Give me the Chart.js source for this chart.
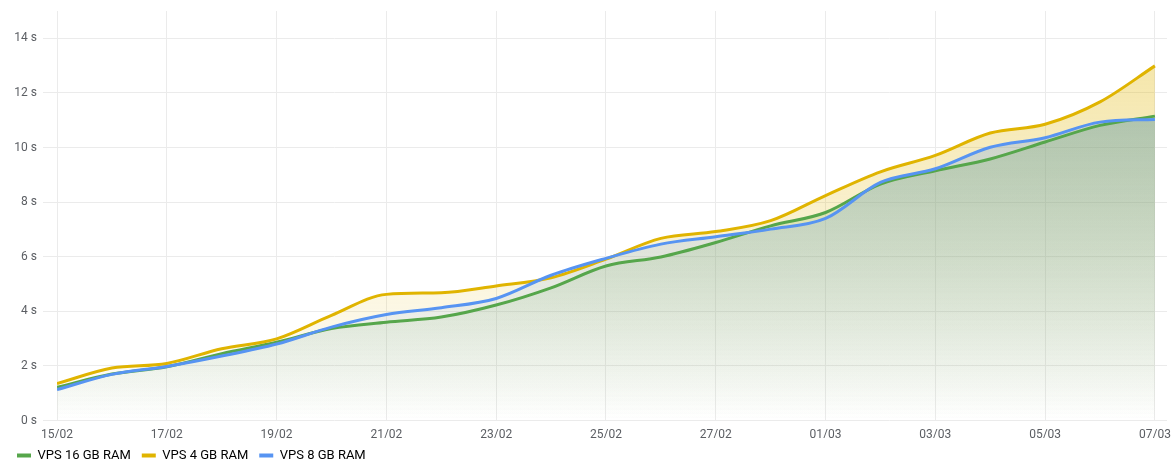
<!DOCTYPE html>
<html>
<head>
<meta charset="utf-8">
<title>VPS</title>
<script src="https://cdn.jsdelivr.net/npm/chart.js@4.4.1/dist/chart.umd.min.js"></script>
<style>
    html, body { margin: 0; padding: 0; background: #fff; }
    canvas { display: block; }
</style>
</head>
<body>
<canvas id="vpsChart" width="1173" height="461"></canvas>
<script>
const days = [
    "15/02", "16/02", "17/02", "18/02", "19/02", "20/02", "21/02",
    "22/02", "23/02", "24/02", "25/02", "26/02", "27/02", "28/02",
    "01/03", "02/03", "03/03", "04/03", "05/03", "06/03", "07/03",
];
const vps16 = [1.22, 1.70, 1.97, 2.45, 2.87, 3.37, 3.60, 3.79, 4.23, 4.86, 5.66,
    5.99, 6.52, 7.13, 7.62, 8.66, 9.15, 9.58, 10.20, 10.81, 11.15];
const vps4 = [1.35, 1.92, 2.09, 2.63, 2.99, 3.85, 4.62, 4.68, 4.93, 5.23, 5.91,
    6.67, 6.92, 7.32, 8.24, 9.11, 9.71, 10.53, 10.85, 11.67, 12.99];
const vps8 = [1.13, 1.69, 1.98, 2.36, 2.80, 3.42, 3.88, 4.13, 4.47, 5.32, 5.94,
    6.46, 6.73, 7.01, 7.40, 8.72, 9.22, 10.01, 10.36, 10.93, 11.03];
const yTicks = [0, 2, 4, 6, 8, 10, 12, 14];

// vertical fade from the top of the plot down to the zero line
const fade = (rgb, alpha) => (ctx) => {
    const area = ctx.chart.chartArea;
    if (!area) return `rgba(${rgb}, ${alpha})`;
    const g = ctx.chart.ctx.createLinearGradient(0, area.top, 0, area.bottom);
    g.addColorStop(0, `rgba(${rgb}, ${alpha})`);
    g.addColorStop(1, `rgba(${rgb}, 0)`);
    return g;
};

const series = (label, values, color, rgb, order) => ({
    label: label,
    data: values.map((v, i) => ({ x: i, y: v })),
    borderColor: color,
    backgroundColor: fade(rgb, 0.38),
    borderWidth: 3,
    pointRadius: 0,
    fill: "origin",
    cubicInterpolationMode: "monotone",
    order: order,
});

Chart.defaults.font.family = "Roboto, 'Liberation Sans', sans-serif";
Chart.defaults.font.size = 12;
Chart.defaults.color = "#5b5e63";

const config = {
    type: "line",
    data: {
        datasets: [
            series("VPS 16 GB RAM", vps16, "#56a64b", "86, 166, 75", 3),
            series("VPS 4 GB RAM", vps4, "#e0b400", "224, 180, 0", 2),
            series("VPS 8 GB RAM", vps8, "#5794f2", "87, 148, 242", 1),
        ],
    },
    options: {
        responsive: false,
        animation: false,
        devicePixelRatio: 1,
        layout: { padding: { top: 11, right: 6, left: 6, bottom: -11 } },
        scales: {
            x: {
                type: "linear",
                min: 0,
                max: 20.22,
                afterBuildTicks: (scale) => {
                    scale.ticks = days.map((d, i) => ({ value: i })).filter((t) => t.value % 2 === 0);
                },
                afterFit: (scale) => {
                    scale.height = 17.5;
                    scale.paddingLeft = 0;
                    scale.paddingRight = 0;
                },
                ticks: {
                    padding: 7,
                    maxRotation: 0,
                    callback: (value) => days[value],
                },
                grid: { color: "#ebebeb", drawTicks: false },
                border: { display: false },
            },
            y: {
                min: 0,
                max: 15,
                afterBuildTicks: (scale) => {
                    scale.ticks = yTicks.map((v) => ({ value: v }));
                },
                afterFit: (scale) => {
                    scale.width = 51;
                    scale.paddingTop = 0;
                    scale.paddingBottom = 0;
                },
                ticks: {
                    padding: 6,
                    callback: (value) => value + " s",
                },
                grid: { color: "#ebebeb", tickLength: 14 },
                border: { display: false },
            },
        },
        plugins: {
            filler: { drawTime: "beforeDatasetsDraw" },
            tooltip: { enabled: false },
            legend: {
                position: "bottom",
                align: "start",
                labels: {
                    boxWidth: 14,
                    boxHeight: 4,
                    padding: 11,
                    color: "#464a50",
                    font: { size: 13 },
                    generateLabels: (chart) => chart.data.datasets.map((ds, i) => ({
                        text: ds.label,
                        fillStyle: ds.borderColor,
                        strokeStyle: ds.borderColor,
                        lineWidth: 0,
                        hidden: false,
                        datasetIndex: i,
                    })),
                },
            },
        },
    },
};

new Chart(document.getElementById("vpsChart"), config);
</script>
</body>
</html>
